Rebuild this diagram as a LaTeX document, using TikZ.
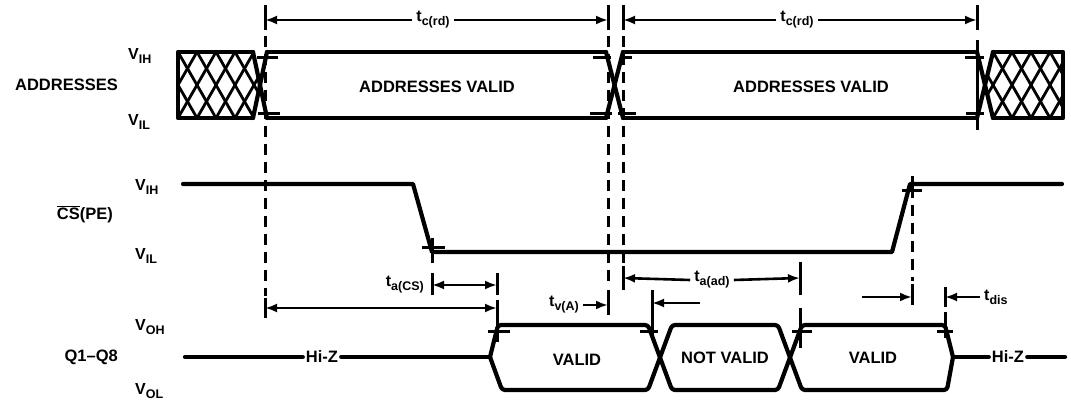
\documentclass[tikz,border=0pt]{standalone}
\usepackage{fontspec}
\setmainfont{Liberation Sans}
\usetikzlibrary{arrows.meta}
\newcommand\Lv[1]{V\raisebox{-4pt}{\fontsize{12.5}{12.5}\selectfont #1}}
\newcommand\Tm[1]{t\raisebox{-4pt}{\fontsize{12.5}{12.5}\selectfont #1}}
\begin{document}
\begin{tikzpicture}[x=1pt,y=-1pt,
  wave/.style={line width=4.2pt,line join=round,line cap=round},
  hatch/.style={line width=2.8pt},
  dashv/.style={line width=3pt,dash pattern=on 11pt off 7pt},
  tk/.style={line width=3pt},
  dim/.style={line width=2.6pt,-{Latex[length=12pt,width=9pt]}},
  ddim/.style={line width=2.6pt,{Latex[length=12pt,width=9pt]}-{Latex[length=12pt,width=9pt]}},
  lab/.style={font=\fontsize{16.5}{16.5}\selectfont\bfseries,inner sep=0pt},
  lev/.style={font=\fontsize{16}{16}\selectfont\bfseries,inner sep=0pt,anchor=west},
  tlab/.style={font=\fontsize{16}{16}\selectfont\bfseries,inner sep=4pt},
]
\useasboundingbox (0,0) rectangle (1071,403);

% ---------- left labels
\node[lab,anchor=east] (addr) at (118,85) {ADDRESSES};
\node[lev] (aih) at (128,56) {\Lv{IH}};
\node[lev] (ail) at (128,122) {\Lv{IL}};
\node[lab,anchor=east] (cs) at (113,214) {$\overline{\hbox{CS}}$(PE)};
\node[lev] (cih) at (135,187) {\Lv{IH}};
\node[lev] (cil) at (135,256) {\Lv{IL}};
\node[lab,anchor=east] (q) at (118,357) {Q1–Q8};
\node[lev] (qoh) at (135,327) {\Lv{OH}};
\node[lev] (qol) at (135,391) {\Lv{OL}};

% ---------- ADDRESSES waveform
\begin{scope}
\clip (178,52) -- (253,52) -- (260,85) -- (253,118) -- (178,118) -- cycle;
\foreach \k in {-3,...,5} {
  \draw[hatch] ({178+19*\k},52) -- ({178+19*\k+38},118);
  \draw[hatch] ({178+19*\k},118) -- ({178+19*\k+38},52);
}
\end{scope}
\draw[wave] (253,52) -- (178,52) -- (178,118) -- (253,118);
\draw[wave] (253,52) -- (267,118);
\draw[wave] (253,118) -- (267,52);
\draw[wave] (267,52) -- (606,52);
\draw[wave] (267,118) -- (606,118);
\draw[wave] (606,52) -- (623,118);
\draw[wave] (606,118) -- (623,52);
\draw[wave] (623,52) -- (977,52);
\draw[wave] (623,118) -- (977,118);
\draw[wave] (977,52) -- (993,118);
\draw[wave] (977,118) -- (993,52);
\begin{scope}
\clip (985,85) -- (993,52) -- (1063,52) -- (1063,118) -- (993,118) -- cycle;
\foreach \k in {-3,...,5} {
  \draw[hatch] ({993+19*\k},52) -- ({993+19*\k+38},118);
  \draw[hatch] ({993+19*\k},118) -- ({993+19*\k+38},52);
}
\end{scope}
\draw[wave] (993,52) -- (1063,52) -- (1063,118) -- (993,118);
\node[lab] (av1) at (437,87) {ADDRESSES VALID};
\node[lab] (av2) at (811,87) {ADDRESSES VALID};

% ticks on address levels
\draw[tk] (257,58) -- (278,58);  \draw[tk] (258,114) -- (280,114);
\draw[tk] (593,58) -- (611,58);  \draw[tk] (590,114) -- (612,114);
\draw[tk] (620,58) -- (632,58);  \draw[tk] (618,114) -- (636,114);
\draw[tk] (965,58) -- (984,58);  \draw[tk] (966,114) -- (984,114);

% verticals
\draw[tk] (265,5) -- (265,30);
\draw[tk] (608,5) -- (608,30);
\draw[tk] (623,5) -- (623,30);
\draw[tk] (977,5) -- (977,30);
\draw[tk] (977,40) -- (977,130);
\draw[dashv] (265,36) -- (265,296);
\draw[dashv] (608,36) -- (608,288);
\draw[dashv] (623,36) -- (623,264);

% top dimensions
\coordinate (c1a) at (265,20); \coordinate (c1b) at (608,20);
\coordinate (c2a) at (623,20); \coordinate (c2b) at (977,20);
\node[tlab] (tc1) at (433,20) {\Tm{c(rd)}};
\node[tlab] (tc2) at (797,20) {\Tm{c(rd)}};
\draw[dim] (tc1.west) -- (c1a);
\draw[dim] (tc1.east) -- (c1b);
\draw[dim] (tc2.west) -- (c2a);
\draw[dim] (tc2.east) -- (c2b);

% ---------- CS waveform
\draw[wave] (183,184) -- (413,184) -- (432,252) -- (892,252) -- (910,184) -- (1062,184);
\draw[tk] (422,248) -- (445,248);
\draw[tk] (432,238) -- (432,263);
\draw[tk] (902,191) -- (922,191);
\draw[tk] (912,176) -- (912,198);
\draw[dashv] (912,205) -- (912,281);

% ---------- timing dimensions (middle)
\draw[tk] (432,273) -- (432,295);
\draw[tk] (497,273) -- (497,295);
\coordinate (cs1) at (432,285); \coordinate (cs2) at (497,285);
\draw[ddim] (cs1) -- (cs2);
\node[tlab,anchor=east] (tacs) at (428,285) {\Tm{a(CS)}};

\draw[tk] (265,298) -- (265,318);
\draw[tk] (497,300) -- (497,342);
\coordinate (aa1) at (265,308); \coordinate (aa2) at (497,308);
\draw[ddim] (aa1) -- (aa2);

\draw[tk] (608,290) -- (608,315);
\node[tlab,anchor=east] (tva) at (583,305) {\Tm{v(A)}};
\coordinate (va1) at (608,305);
\draw[dim] (tva.east) -- (va1);
\draw[tk] (652,290) -- (652,340);
\coordinate (va2) at (652,303); \coordinate (va3) at (700,303);
\draw[dim] (va3) -- (va2);

\draw[tk] (623,266) -- (623,290);
\draw[tk] (800,262) -- (800,295);
\node[tlab] (taad) at (712,280) {\Tm{a(ad)}};
\coordinate (ad1) at (623,278); \coordinate (ad2) at (800,278);
\draw[dim] (taad.west) -- (ad1);
\draw[dim] (taad.east) -- (ad2);

\draw[tk] (912,284) -- (912,305);
\coordinate (ds1) at (862,297); \coordinate (ds2) at (912,297);
\draw[dim] (ds1) -- (ds2);
\draw[tk] (945,287) -- (945,307);
\node[tlab,anchor=west] (tdis) at (980,297) {\Tm{dis}};
\coordinate (ds3) at (945,297);
\draw[dim] (tdis.west) -- (ds3);

% ---------- Q waveform
\node[lab,inner sep=3pt] (hz1) at (322,357) {Hi-Z};
\node[lab,inner sep=3pt] (hz2) at (1008,357) {Hi-Z};
\draw[wave] (185,357) -- (hz1.west);
\draw[wave] (hz1.east) -- (490,357);
\draw[wave,rounded corners=3pt] (490,357) -- (498,325) -- (648,325) -- (672,390) -- (778,390) -- (802,325) -- (945,325) -- (953,357);
\draw[wave,rounded corners=3pt] (490,357) -- (502,390) -- (648,390) -- (672,325) -- (778,325) -- (802,390) -- (947,390) -- (953,357);
\draw[wave] (953,357) -- (hz2.west);
\draw[wave] (hz2.east) -- (1065,357);
\draw[tk] (488,332) -- (510,332);
\draw[tk] (640,332) -- (658,332);
\draw[tk] (792,332) -- (812,332);
\draw[tk] (800,308) -- (800,348);
\draw[tk] (937,332) -- (953,332);
\draw[tk] (945,312) -- (945,338);
\node[lab] (v1) at (577,360) {VALID};
\node[lab] (nv) at (725,358) {NOT VALID};
\node[lab] (v2) at (873,358) {VALID};
\end{tikzpicture}
\end{document}
